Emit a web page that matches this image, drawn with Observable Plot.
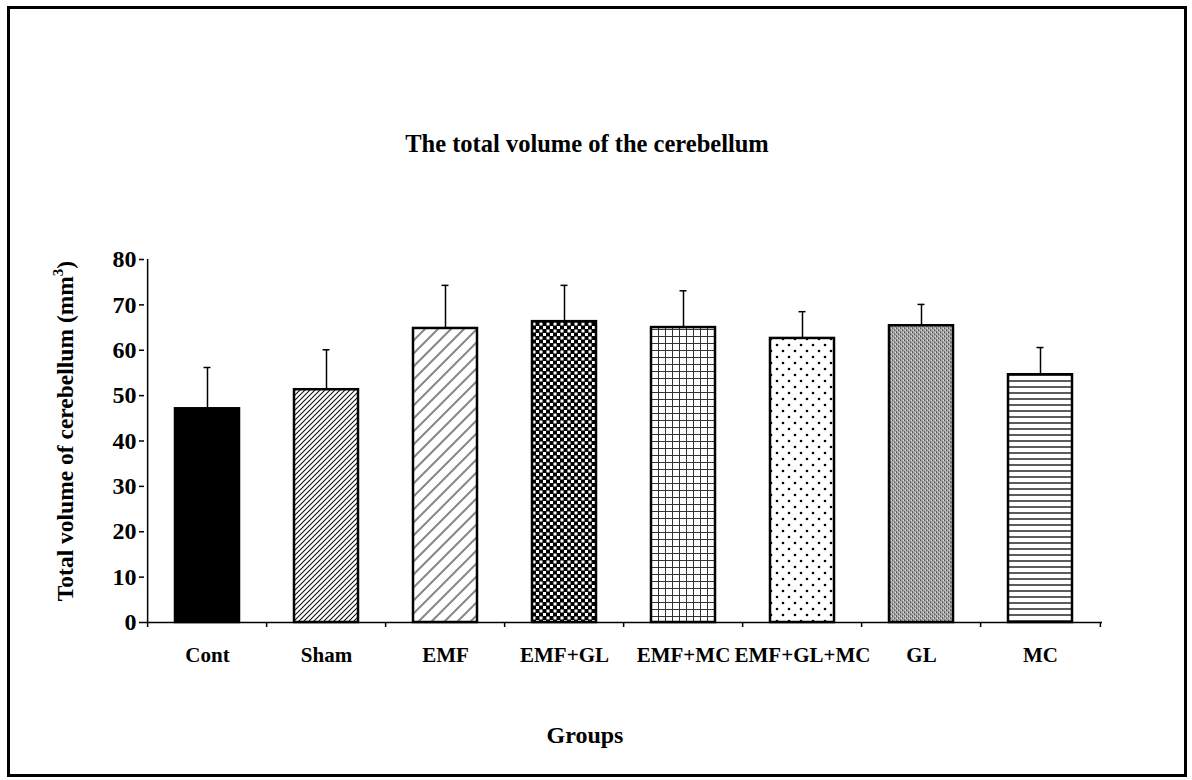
<!DOCTYPE html>
<html><head><meta charset="utf-8">
<script src="https://cdn.jsdelivr.net/npm/d3@7"></script>
<script src="https://cdn.jsdelivr.net/npm/@observablehq/plot@0.6"></script>
<style>body{margin:0;background:#fff} svg{display:block}</style>
</head><body><div id="chart"></div>
<script>
// ---- data ----
const groups = ["Cont", "Sham", "EMF", "EMF+GL", "EMF+MC", "EMF+GL+MC", "GL", "MC"];
const means  = [47.1, 51.3, 64.8, 66.3, 65.0, 62.6, 65.4, 54.6];
const sds    = [9.1, 8.8, 9.5, 8.0, 8.1, 5.9, 4.7, 6.0];
const yTicks = [0, 10, 20, 30, 40, 50, 60, 70, 80];
const titleText = "The total volume of the cerebellum";
const xLabel = "Groups";

// ---- styles ----
const fills = {
  "Cont": "#000",
  "Sham": "url(#p-sham)",
  "EMF": "url(#p-emf)",
  "EMF+GL": "url(#p-check)",
  "EMF+MC": "url(#p-grid)",
  "EMF+GL+MC": "url(#p-dots)",
  "GL": "url(#p-stipple)",
  "MC": "url(#p-hlines)"
};
const FONT = "'Liberation Serif','Times New Roman',serif";
const W = 1192, H = 780, ML = 144, MR = 90, MT = 259, MB = 158;
const step = (W - ML - MR) / groups.length;

const data = groups.map((g, i) => ({group: g, mean: means[i], sd: sds[i]}));

const plot = Plot.plot({
  width: W, height: H,
  marginLeft: ML, marginRight: MR, marginTop: MT, marginBottom: MB,
  style: {fontFamily: FONT, fontWeight: "bold", fontSize: "24px", background: "#fff", color: "#000"},
  x: {domain: groups, paddingInner: 0.465, paddingOuter: 0.2325, label: null},
  y: {domain: [0, 80], label: null},
  color: {type: "identity"},
  marks: [
    Plot.axisY({ticks: yTicks, tickSize: 5, tickPadding: 3, fontSize: 24, strokeWidth: 1.5, label: null}),
    Plot.axisX({tickSize: 0, tickPadding: 25, fontSize: 21, label: null}),
    // error bars (upper only)
    Plot.ruleX(data, {x: "group", y1: "mean", y2: d => d.mean + d.sd, stroke: "#000", strokeWidth: 1.5}),
    Plot.tickY(data, {x: "group", y: d => d.mean + d.sd, insetLeft: 28.5, insetRight: 28.5, stroke: "#000", strokeWidth: 1.5}),
    // bars
    Plot.barY(data, {x: "group", y: "mean", fill: d => fills[d.group], stroke: "#000", strokeWidth: 2.5}),
    // axis lines
    Plot.ruleY([0], {stroke: "#000", strokeWidth: 1.5}),
    Plot.ruleX([groups[0]], {x: d => d, dx: -step / 2, y1: 0, y2: 80, stroke: "#000", strokeWidth: 1.5}),
    // category boundary ticks
    Plot.ruleX(groups, {x: d => d, dx: -step / 2, y1: 0, y2: -1.1, stroke: "#000", strokeWidth: 1.5}),
    Plot.ruleX([groups[groups.length - 1]], {x: d => d, dx: step / 2, y1: 0, y2: -1.1, stroke: "#000", strokeWidth: 1.5})
  ]
});

const svg = d3.select(plot);
const defs = svg.insert("defs", ":first-child");
function pat(id, w, h) {
  return defs.append("pattern").attr("id", id).attr("patternUnits", "userSpaceOnUse")
    .attr("width", w).attr("height", h);
}
// Sham: dense fine diagonals
let p = pat("p-sham", 5, 5);
p.append("rect").attr("width", 5).attr("height", 5).attr("fill", "#fff");
p.append("path").attr("d", "M0,5L5,0M-1,1L1,-1M4,6L6,4").attr("stroke", "#111").attr("stroke-width", 1.1);
// EMF: wide gray diagonals
p = pat("p-emf", 13, 13);
p.append("rect").attr("width", 13).attr("height", 13).attr("fill", "#fff");
p.append("path").attr("d", "M0,13L13,0M-3,3L3,-3M10,16L16,10").attr("stroke", "#888").attr("stroke-width", 2);
// EMF+GL: checkerboard
p = pat("p-check", 7, 7);
p.append("rect").attr("width", 7).attr("height", 7).attr("fill", "#000");
p.append("rect").attr("x", 0.5).attr("y", 0.5).attr("width", 3).attr("height", 3).attr("fill", "#fff");
p.append("rect").attr("x", 4).attr("y", 4).attr("width", 3).attr("height", 3).attr("fill", "#fff");
// EMF+MC: grid
p = pat("p-grid", 7, 7);
p.append("rect").attr("width", 7).attr("height", 7).attr("fill", "#fff");
p.append("path").attr("d", "M0.5,0V7M0,0.5H7").attr("stroke", "#333").attr("stroke-width", 1);
// EMF+GL+MC: staggered dots
p = pat("p-dots", 12, 12);
p.append("rect").attr("width", 12).attr("height", 12).attr("fill", "#fff");
p.append("circle").attr("cx", 3).attr("cy", 3).attr("r", 1.3).attr("fill", "#000");
p.append("circle").attr("cx", 9).attr("cy", 9).attr("r", 1.3).attr("fill", "#000");
// GL: gray stipple
p = pat("p-stipple", 4, 4);
p.append("rect").attr("width", 4).attr("height", 4).attr("fill", "#a6a6a6");
[[0,0,"#555"],[2,2,"#555"],[1,2,"#e0e0e0"],[3,0,"#e0e0e0"],[0,3,"#777"],[2,1,"#777"]].forEach(([x,y,c]) =>
  p.append("rect").attr("x", x).attr("y", y).attr("width", 1).attr("height", 1).attr("fill", c));
// MC: horizontal lines
p = pat("p-hlines", 6, 6);
p.append("rect").attr("width", 6).attr("height", 6).attr("fill", "#fff");
p.append("path").attr("d", "M0,3H6").attr("stroke", "#333").attr("stroke-width", 1.6);

// border frame
svg.append("rect").attr("x", 8.5).attr("y", 7.5).attr("width", 1177).attr("height", 768)
  .attr("fill", "none").attr("stroke", "#000").attr("stroke-width", 3);
// title
svg.append("text").attr("x", 587).attr("y", 152).attr("text-anchor", "middle")
  .attr("font-family", FONT).attr("font-weight", "bold").attr("font-size", 24.5).attr("fill", "#000")
  .text(titleText);
// x label
svg.append("text").attr("x", 585).attr("y", 743).attr("text-anchor", "middle")
  .attr("font-family", FONT).attr("font-weight", "bold").attr("font-size", 24).attr("fill", "#000")
  .text(xLabel);
// y label with superscript
const yl = svg.append("text").attr("transform", "translate(73,431) rotate(-90)").attr("text-anchor", "middle")
  .attr("font-family", FONT).attr("font-weight", "bold").attr("font-size", 23.5).attr("fill", "#000");
yl.append("tspan").text("Total volume of cerebellum (mm");
yl.append("tspan").attr("dy", -10).attr("font-size", 15).text("3");
yl.append("tspan").attr("dy", 10).text(")");

document.getElementById("chart").appendChild(plot);
</script>
</body></html>
